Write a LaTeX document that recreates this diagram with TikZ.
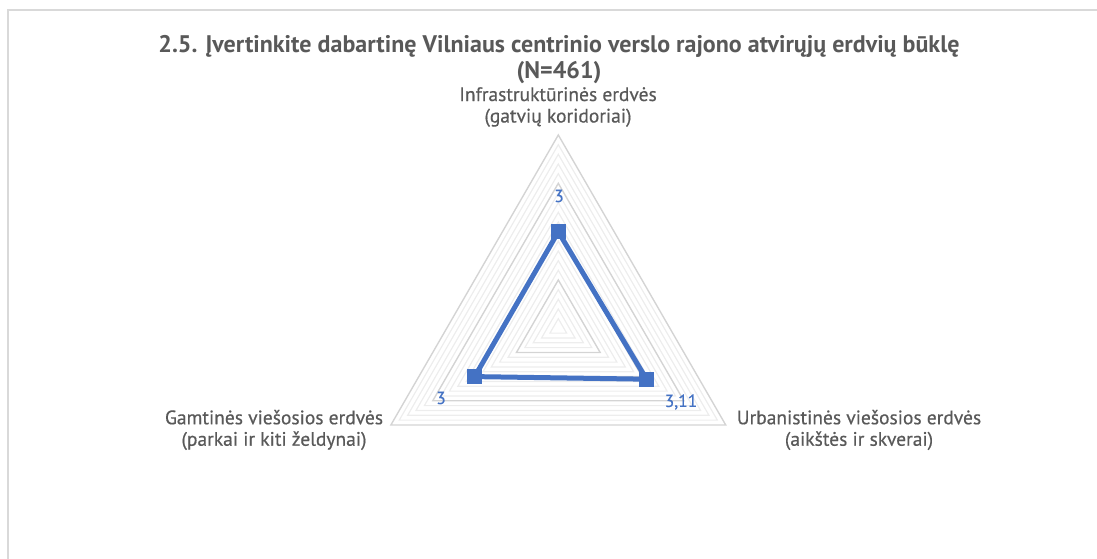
\documentclass[tikz,border=0pt]{standalone}
\usepackage{fontspec}
\setmainfont{PT Sans}
\newfontfamily\medfont[FakeBold=0.5]{PT Sans}
\begin{document}
\begin{tikzpicture}[x=1pt,y=-1pt,
  titletext/.style={font=\bfseries\fontsize{24}{27}\selectfont, text=txtgray, align=center, inner sep=0pt},
  cattext/.style={font=\medfont\fontsize{19.5}{21.5}\selectfont, text=txtgray, align=center, inner sep=0pt},
  vallabel/.style={font=\medfont\fontsize{17.5}{18}\selectfont, text=serblue, inner sep=0pt},
  minorgrid/.style={draw=gridminor, line width=1.2pt},
  majorgrid/.style={draw=gridmajor, line width=1.4pt},
  series/.style={draw=serblue, line width=5pt, line join=round},
  marker/.style={rectangle, fill=serblue, minimum size=15pt, inner sep=0pt}]
\definecolor{txtgray}{HTML}{595959}
\definecolor{serblue}{HTML}{4472C4}
\definecolor{gridminor}{HTML}{EDEDED}
\definecolor{gridmajor}{HTML}{D4D4D4}
\definecolor{framegray}{HTML}{D9D9D9}
\useasboundingbox (0,0) rectangle (1097,559);
% chart frame
\draw[framegray, line width=1.2pt] (8,570) -- (8,10) -- (1110,10);
% title
\node[titletext] (title1) at (559,46) {2.5. Įvertinkite dabartinę Vilniaus centrinio verslo rajono atvirųjų erdvių būklę};
\node[titletext] (title2) at (559,73) {(N=461)};
% gridlines
\def\cx{558.3}
\def\cy{328.3}
\foreach \k in {1,2,3,4,6,7,8,9,11,12,13,14,16,17,18,19}{
  \pgfmathsetmacro{\r}{9.665*\k}
  \draw[minorgrid] ({\cx},{\cy-\r}) -- ({\cx+0.866*\r},{\cy+0.5*\r}) -- ({\cx-0.866*\r},{\cy+0.5*\r}) -- cycle;
}
\foreach \k in {5,10,15,20}{
  \pgfmathsetmacro{\r}{9.665*\k}
  \draw[majorgrid] ({\cx},{\cy-\r}) -- ({\cx+0.866*\r},{\cy+0.5*\r}) -- ({\cx-0.866*\r},{\cy+0.5*\r}) -- cycle;
}
% category labels
\node[cattext] (catTop) at (558,107) {Infrastruktūrinės erdvės\\(gatvių koridoriai)};
\node[cattext] (catLeft) at (274,430) {Gamtinės viešosios erdvės\\(parkai ir kiti želdynai)};
\node[cattext] (catRight) at (859,430) {Urbanistinės viešosios erdvės\\(aikštės ir skverai)};
% data series (scale 1..5, outer radius 193.3)
\coordinate (pTop) at (558.3,231.8);
\coordinate (pLeft) at (474.7,376.6);
\coordinate (pRight) at (646.5,379.2);
\draw[series] (pTop) -- (pRight) -- (pLeft) -- cycle;
\node[marker] (mTop) at (pTop) {};
\node[marker] (mLeft) at (pLeft) {};
\node[marker] (mRight) at (pRight) {};
% data labels
\node[vallabel] (lTop) at (559,196) {3};
\node[vallabel] (lLeft) at (441,398) {3};
\node[vallabel] (lRight) at (681,402) {3,11};
\end{tikzpicture}
\end{document}
